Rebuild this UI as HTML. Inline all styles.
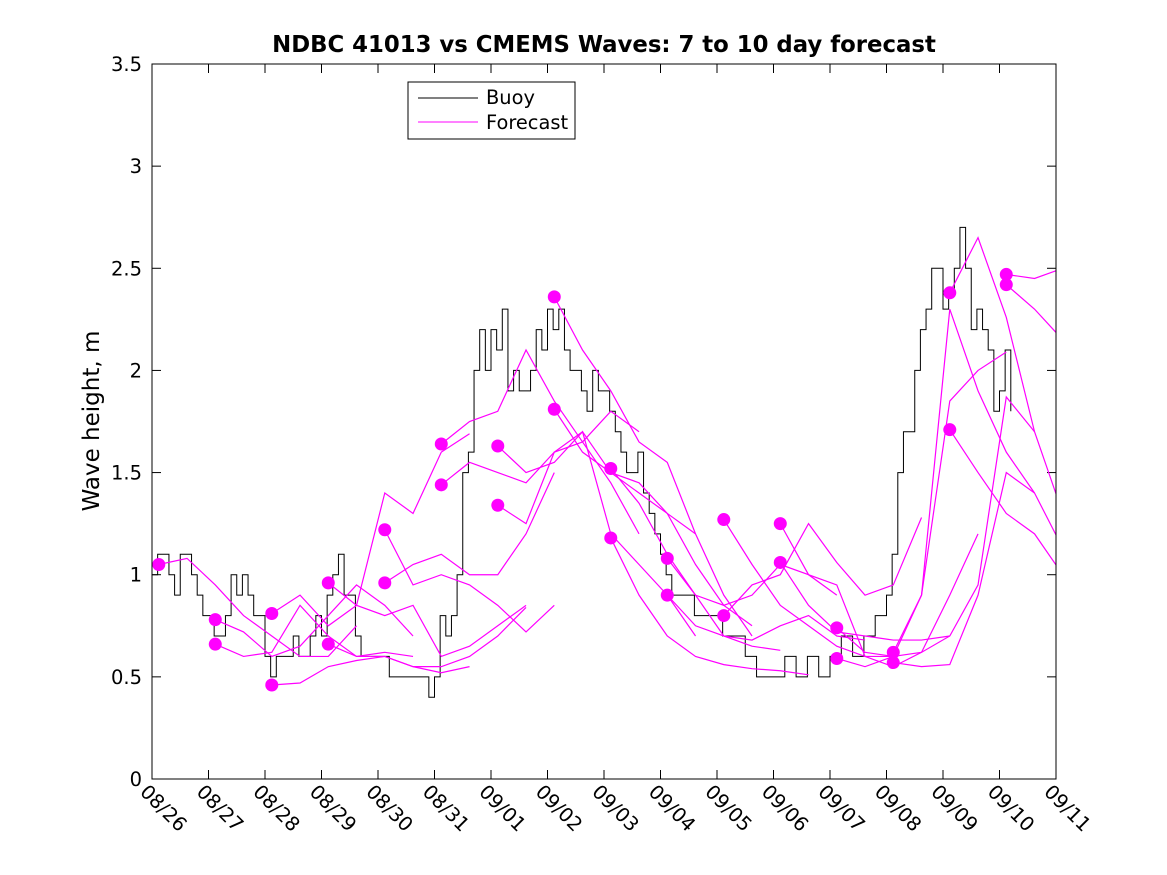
<!DOCTYPE html>
<html><head><meta charset="utf-8"><style>
body{margin:0;background:#fff;}
svg{display:block;font-family:"DejaVu Sans","Liberation Sans",sans-serif;}
</style></head><body>
<svg id="chart" width="1167" height="875">
<defs><clipPath id="plotclip"><rect x="152" y="64" width="904" height="715"/></clipPath></defs>
<rect width="1167" height="875" fill="#fff"/>
<text x="604" y="52" text-anchor="middle" font-size="22.8" font-weight="bold">NDBC 41013 vs CMEMS Waves: 7 to 10 day forecast</text>
<text transform="translate(99,421) rotate(-90)" text-anchor="middle" font-size="23">Wave height, m</text>
<g id="grid"></g>
<g id="series" clip-path="url(#plotclip)"></g>
<rect x="152" y="64" width="904" height="715" fill="none" stroke="#000" stroke-width="1"/>
<g>
<rect x="408" y="82" width="167" height="57" fill="#fff" stroke="#000"/>
<line x1="418" y1="98" x2="478" y2="98" stroke="#000"/>
<text x="486" y="104" font-size="19.4">Buoy</text>
<line x1="418" y1="122" x2="478" y2="122" stroke="#f0f"/>
<text x="486" y="129" font-size="19.4">Forecast</text>
</g>
</svg>
<script>
const xTickLabels=["08/26","08/27","08/28","08/29","08/30","08/31","09/01","09/02","09/03","09/04","09/05","09/06","09/07","09/08","09/09","09/10","09/11"];
const yTicks=[0,0.5,1,1.5,2,2.5,3,3.5];
const buoyDays=[0,0.1,0.3,0.4,0.5,0.7,0.8,0.9,1.0,1.1,1.2,1.3,1.4,1.5,1.6,1.7,1.8,1.9,2.0,2.1,2.2,2.4,2.5,2.6,2.8,2.9,3.0,3.1,3.2,3.3,3.4,3.5,3.6,3.7,3.8,4.0,4.2,4.5,4.8,4.9,5.0,5.1,5.2,5.3,5.4,5.5,5.6,5.7,5.8,5.9,6.0,6.1,6.2,6.3,6.4,6.5,6.6,6.7,6.8,6.9,7.0,7.1,7.2,7.3,7.4,7.5,7.6,7.7,7.8,7.9,8.0,8.1,8.2,8.3,8.4,8.5,8.6,8.7,8.8,8.9,9.0,9.1,9.2,9.4,9.6,9.8,10.0,10.1,10.3,10.5,10.7,11.0,11.2,11.4,11.6,11.8,12.0,12.2,12.4,12.6,12.8,13.0,13.1,13.2,13.3,13.4,13.5,13.6,13.7,13.8,14.0,14.1,14.2,14.3,14.4,14.5,14.6,14.7,14.8,14.9,15.0,15.1,15.2];
const buoyValues=[1.0,1.1,1.0,0.9,1.1,1.0,0.9,0.8,0.8,0.7,0.7,0.8,1.0,0.9,1.0,0.9,0.8,0.8,0.6,0.5,0.6,0.6,0.7,0.6,0.7,0.8,0.7,0.9,1.0,1.1,0.9,0.9,0.7,0.6,0.6,0.6,0.5,0.5,0.5,0.4,0.5,0.8,0.7,0.8,1.0,1.5,1.6,2.0,2.2,2.0,2.2,2.1,2.3,1.9,2.0,1.9,1.9,2.0,2.2,2.1,2.3,2.2,2.3,2.1,2.0,2.0,1.9,1.8,2.0,1.9,1.9,1.8,1.7,1.6,1.5,1.5,1.6,1.4,1.3,1.2,1.1,1.0,0.9,0.9,0.8,0.8,0.8,0.7,0.7,0.6,0.5,0.5,0.6,0.5,0.6,0.5,0.6,0.7,0.6,0.7,0.8,0.9,1.1,1.5,1.7,1.7,2.0,2.2,2.3,2.5,2.3,2.4,2.5,2.7,2.5,2.2,2.3,2.2,2.1,1.8,1.9,2.1,1.8];
const fcStarts=[0.12,1.12,1.12,2.12,2.12,3.12,3.12,4.12,4.12,5.12,5.12,6.12,6.12,7.12,7.12,8.12,8.12,9.12,9.12,10.12,10.12,11.12,11.12,12.12,12.12,13.12,13.12,14.12,14.12,15.12,15.12];
const fcValues=[
[1.05,1.08,0.95,0.8,0.7,0.6,0.6,0.75],
[0.78,0.72,0.6,0.65,0.8,0.95,0.85,0.7],
[0.66,0.6,0.62,0.85,0.7,0.6,0.62,0.6],
[0.81,0.9,0.75,0.85,1.4,1.3,1.6,1.69],
[0.46,0.47,0.55,0.58,0.6,0.55,0.52,0.55],
[0.96,0.85,0.8,0.85,0.6,0.65,0.75,0.85],
[0.66,0.6,0.6,0.55,0.55,0.6,0.7,0.84],
[1.22,0.95,1.0,0.95,0.85,0.72,0.85],
[0.96,1.05,1.1,1.0,1.0,1.2,1.5],
[1.64,1.75,1.8,2.1,1.85,1.65,1.45,1.2],
[1.44,1.55,1.5,1.45,1.6,1.65,1.8,1.7],
[1.63,1.5,1.55,1.7,1.2,1.05,0.9,0.7],
[1.34,1.25,1.6,1.7,1.5,1.4,1.3,1.2],
[2.36,2.1,1.9,1.65,1.55,1.2,0.9,0.7],
[1.81,1.6,1.5,1.45,1.3,1.05,0.85,0.75],
[1.52,1.35,1.1,0.9,0.7,0.65,0.63],
[1.18,0.9,0.7,0.6,0.56,0.54,0.53,0.51],
[1.08,0.9,0.85,0.9,1.05,1.0,0.9],
[0.9,0.75,0.7,0.68,0.75,0.8,0.7,0.68],
[1.27,1.05,0.85,0.75,0.65,0.6,0.6],
[0.8,0.95,1.0,1.25,1.06,0.9,0.95,1.28],
[1.25,1.0,0.95,0.6,0.55,0.62,0.9,1.2],
[1.06,0.85,0.72,0.7,0.68,0.68,0.7],
[0.74,0.62,0.6,0.9,1.85,2.0,2.09],
[0.59,0.55,0.6,0.62,0.7,0.95,1.87,1.7],
[0.62,0.9,2.3,1.9,1.6,1.4],
[0.57,0.55,0.56,0.9,1.5,1.4,1.13],
[2.38,2.65,2.26,1.7,1.3,1.25,1.35],
[1.71,1.5,1.3,1.2,1.0,0.9],
[2.47,2.45,2.5,2.6],
[2.42,2.3,2.15]];
const NS="http://www.w3.org/2000/svg";
const X0=152,X1=1056,Y0=779,Y1=64;
const xs=d=>X0+d*(X1-X0)/16;
const ys=v=>Y0-v*(Y0-Y1)/3.5;
const g=document.getElementById('grid'),s=document.getElementById('series');
function mk(tag,at,par){const e=document.createElementNS(NS,tag);for(const k in at)e.setAttribute(k,at[k]);par.appendChild(e);return e;}
yTicks.forEach(v=>{
 const l=mk('line',{x1:X0,x2:X0+9,y1:ys(v),y2:ys(v),stroke:'#000'},g);
 
 
 const r=mk('line',{x1:X1-9,x2:X1,y1:ys(v),y2:ys(v),stroke:'#000'},g);
 
 
 const t=mk('text',{x:X0-10,y:ys(v)+7,'text-anchor':'end','font-size':'19.5'},g);
 t.textContent=String(v);
 
 
});
xTickLabels.forEach((lab,i)=>{
 const x=xs(i);
 const l=mk('line',{x1:x,x2:x,y1:Y0,y2:Y0-9,stroke:'#000'},g);
 
 
 const t2=mk('line',{x1:x,x2:x,y1:Y1,y2:Y1+9,stroke:'#000'},g);
 
 
 const t=mk('text',{transform:`translate(${x-13},${Y0+14}) rotate(45)`,'font-size':'19.5'},g);
 t.textContent=lab;
 
 
});
let d='';
buoyDays.forEach((dd,i)=>{
 const x=xs(dd),y=ys(buoyValues[i]);
 if(i===0)d+=`M${x},${y}`;else d+=`H${x}V${y}`;
});
const bp=mk('path',{d:d,fill:'none',stroke:'#000','stroke-width':'1'},s);


fcStarts.forEach((st,i)=>{
 const pts=fcValues[i].map((v,j)=>`${xs(st+j*0.5)},${ys(v)}`).join(' ');
 const p=mk('polyline',{points:pts,fill:'none',stroke:'#f0f','stroke-width':'1.2'},s);
 
 
});
fcStarts.forEach((st,i)=>{
 const c=mk('circle',{cx:xs(st),cy:ys(fcValues[i][0]),r:6.5,fill:'#f0f'},s);
 
 
});
</script>
</body></html>
